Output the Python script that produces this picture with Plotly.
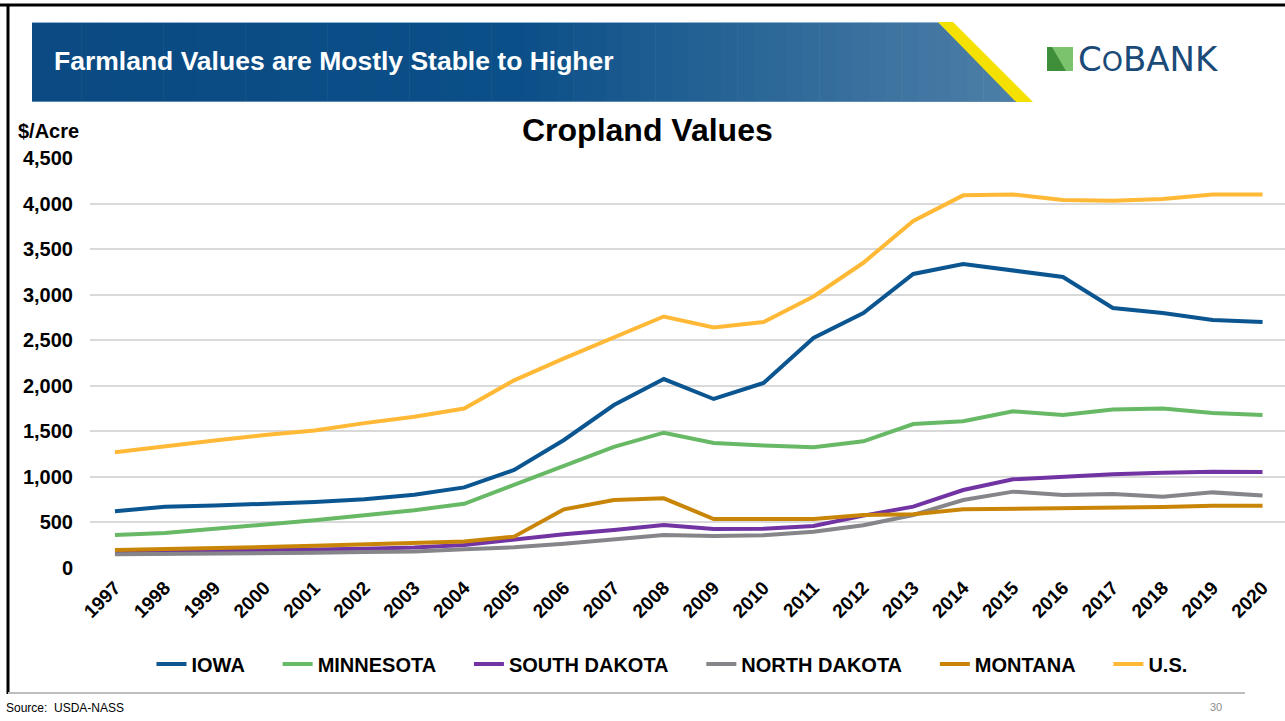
import plotly.graph_objects as go

years = [str(y) for y in range(1997, 2021)]
iowa = [622, 673, 685, 700, 725, 755, 805, 885, 1076, 1405, 1789, 2074, 1855, 2031, 2524, 2799, 3227, 3337, 3260, 3194, 2854, 2799, 2722, 2700]
minnesota = [362, 385, 430, 475, 525, 580, 635, 705, 915, 1120, 1330, 1485, 1372, 1345, 1325, 1390, 1580, 1610, 1720, 1680, 1740, 1750, 1700, 1680]
south_dakota = [176, 180, 187, 195, 202, 212, 225, 252, 315, 370, 417, 472, 428, 432, 461, 575, 673, 856, 973, 1002, 1028, 1046, 1057, 1054]
north_dakota = [150, 152, 157, 163, 168, 175, 180, 205, 227, 265, 315, 362, 351, 360, 398, 470, 582, 746, 838, 801, 812, 783, 830, 797]
montana = [198, 205, 218, 230, 245, 260, 275, 290, 344, 644, 746, 765, 538, 538, 538, 582, 590, 644, 651, 651, 662, 670, 684, 684]
us = [1270, 1340, 1400, 1460, 1510, 1590, 1660, 1750, 2060, 2300, 2530, 2760, 2640, 2700, 2980, 3350, 3810, 4090, 4100, 4040, 4030, 4050, 4100, 4100]

series_names = ["IOWA", "MINNESOTA", "SOUTH DAKOTA", "NORTH DAKOTA", "MONTANA", "U.S."]
series_values = [iowa, minnesota, south_dakota, north_dakota, montana, us]
series_colors = ["#0B5590", "#67B966", "#7233A3", "#86868A", "#C98508", "#FFB936"]

y_ticks = [0, 500, 1000, 1500, 2000, 2500, 3000, 3500, 4000, 4500]
y_tick_text = ["0", "500", "1,000", "1,500", "2,000", "2,500", "3,000", "3,500", "4,000", "4,500"]

W, H = 1285, 721
L, R, T, B = 90, 1285, 158, 568
FONT = "Arial, Liberation Sans, sans-serif"
NB = "\u00a0"


def px(x):
    return (x - L) / (R - L)


def py(y):
    return (B - y) / (B - T)


fig = go.Figure()
for name, vals, col in zip(series_names, series_values, series_colors):
    fig.add_trace(go.Scatter(x=years, y=vals, name=name + NB * 5, mode="lines",
                             line=dict(color=col, width=4), hoverinfo="x+y+name"))

shapes = []
# banner gradient strips
c0 = (11, 74, 130)
c1 = (12, 80, 137)
c2 = (78, 128, 168)
x_start, x_end = 32, 1016
n = 60
for i in range(n):
    xa = x_start + (x_end - x_start) * i / n
    xb = x_start + (x_end - x_start) * (i + 1) / n + 0.6
    t = (i + 0.5) / n
    if t < 0.5:
        u = t / 0.5
        c = tuple(int(c0[k] + (c1[k] - c0[k]) * u) for k in range(3))
    else:
        u = (t - 0.5) / 0.5
        c = tuple(int(c1[k] + (c2[k] - c1[k]) * u) for k in range(3))
    shapes.append(dict(type="rect", xref="paper", yref="paper", x0=px(xa), x1=px(xb),
                       y0=py(102), y1=py(22), fillcolor="rgb(%d,%d,%d)" % c, line_width=0, layer="below"))
# cut diagonal with white triangle
shapes.append(dict(type="path", xref="paper", yref="paper",
                   path="M %f %f L %f %f L %f %f Z" % (px(938), py(22), px(1020), py(22), px(1020), py(102)),
                   fillcolor="white", line_width=0, layer="below"))
# yellow stripe
shapes.append(dict(type="path", xref="paper", yref="paper",
                   path="M %f %f L %f %f L %f %f L %f %f Z" % (px(938), py(22), px(953), py(22), px(1033), py(102), px(1016), py(102)),
                   fillcolor="#F5E100", line_width=0, layer="below"))
# thin light lines top/bottom of banner
shapes.append(dict(type="line", xref="paper", yref="paper", x0=px(32), x1=px(938), y0=py(22.5), y1=py(22.5),
                   line=dict(color="#8FB3D2", width=1), layer="below"))
shapes.append(dict(type="line", xref="paper", yref="paper", x0=px(32), x1=px(1016), y0=py(101.5), y1=py(101.5),
                   line=dict(color="#5E88AE", width=1), layer="below"))
# frame lines
shapes.append(dict(type="line", xref="paper", yref="paper", x0=px(0), x1=px(1285), y0=py(5), y1=py(5),
                   line=dict(color="black", width=3)))
shapes.append(dict(type="line", xref="paper", yref="paper", x0=px(8), x1=px(8), y0=py(4), y1=py(694),
                   line=dict(color="black", width=3)))
# footer gray line
shapes.append(dict(type="line", xref="paper", yref="paper", x0=px(8), x1=px(1245), y0=py(693), y1=py(693),
                   line=dict(color="#BDBDBD", width=2)))
# logo icon
shapes.append(dict(type="rect", xref="paper", yref="paper", x0=px(1047), x1=px(1073), y0=py(71), y1=py(47),
                   fillcolor="#3E8E3A", line_width=0))
shapes.append(dict(type="path", xref="paper", yref="paper",
                   path="M %f %f L %f %f L %f %f L %f %f Z" % (px(1052), py(47), px(1073), py(47), px(1073), py(71), px(1066), py(71)),
                   fillcolor="#7CC36E", line_width=0))

annotations = [
    dict(text="<b>Farmland Values are Mostly Stable to Higher</b>", x=px(52), y=py(61), xref="paper", yref="paper",
         xanchor="left", yanchor="middle", showarrow=False, font=dict(family=FONT, size=26.5, color="white")),
    dict(text="C<span style='font-size:27px'>O</span>BANK", x=px(1076), y=py(59), xref="paper", yref="paper",
         xanchor="left", yanchor="middle", showarrow=False,
         font=dict(family="DejaVu Sans, sans-serif", size=34, color="#1A4A78")),
    dict(text="<b>Cropland Values</b>", x=px(647), y=py(130), xref="paper", yref="paper",
         xanchor="center", yanchor="middle", showarrow=False, font=dict(family=FONT, size=32, color="black")),
    dict(text="<b>$/Acre</b>", x=px(16), y=py(131), xref="paper", yref="paper",
         xanchor="left", yanchor="middle", showarrow=False, font=dict(family=FONT, size=20, color="black")),
    dict(text="Source:  USDA-NASS", x=px(4), y=py(708), xref="paper", yref="paper",
         xanchor="left", yanchor="middle", showarrow=False, font=dict(family=FONT, size=12, color="black")),
    dict(text="30", x=px(1224), y=py(707), xref="paper", yref="paper",
         xanchor="right", yanchor="middle", showarrow=False, font=dict(family=FONT, size=11, color="#8C8C8C")),
]

fig.update_layout(
    width=W, height=H,
    margin=dict(l=L, r=W - R, t=T, b=H - B, pad=0),
    paper_bgcolor="white", plot_bgcolor="white",
    font=dict(family=FONT, color="black"),
    showlegend=True,
    legend=dict(orientation="h", xref="container", yref="container", x=686 / 1285, y=1 - 664 / 721,
                xanchor="center", yanchor="middle", font=dict(family=FONT, size=20, color="black", weight="bold"),
                itemwidth=30, tracegroupgap=0, bgcolor="rgba(0,0,0,0)"),
    shapes=shapes,
    annotations=annotations,
    xaxis=dict(type="category", range=[-0.5, 23.45], showgrid=False, zeroline=False, showline=False,
               tickangle=-45, ticks="", tickfont=dict(family=FONT, size=19, color="black", weight="bold"),
               ticklabelstandoff=4),
    yaxis=dict(range=[0, 4500], tickvals=y_ticks, ticktext=y_tick_text, showgrid=True, gridcolor="#D9D9D9",
               gridwidth=1.5, zeroline=False, showline=False, ticks="",
               tickfont=dict(family=FONT, size=20, color="black", weight="bold"), ticklabelstandoff=16),
)

fig.write_html("out.html", config={"displayModeBar": False},
               post_script="document.body.style.margin='0';document.body.style.overflow='hidden';")
